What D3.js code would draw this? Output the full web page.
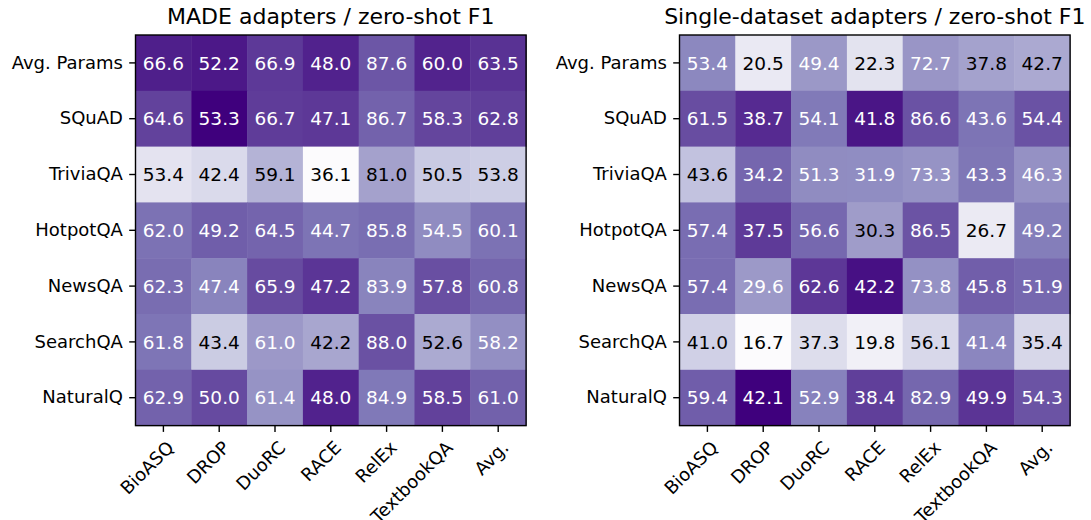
<!DOCTYPE html>
<html>
<head>
<meta charset="utf-8">
<script src="https://cdn.jsdelivr.net/npm/d3@7"></script>
<style>
  body { margin: 0; background: #fff; }
  svg { display: block; font-family: "DejaVu Sans", sans-serif; }
  .tick text { font-family: "DejaVu Sans", sans-serif; font-size: 18px; fill: #000; }
  .tick line { stroke: #000; stroke-width: 1.4; }
  .domain { display: none; }
</style>
</head>
<body>
<svg id="chart" width="1091" height="520"></svg>
<script>
// columns = target datasets, rows = adapter source
var datasets = ["BioASQ", "DROP", "DuoRC", "RACE", "RelEx", "TextbookQA", "Avg."];
var sources = ["Avg. Params", "SQuAD", "TriviaQA", "HotpotQA", "NewsQA", "SearchQA", "NaturalQ"];

var madeF1 = [
  [66.6, 52.2, 66.9, 48.0, 87.6, 60.0, 63.5],
  [64.6, 53.3, 66.7, 47.1, 86.7, 58.3, 62.8],
  [53.4, 42.4, 59.1, 36.1, 81.0, 50.5, 53.8],
  [62.0, 49.2, 64.5, 44.7, 85.8, 54.5, 60.1],
  [62.3, 47.4, 65.9, 47.2, 83.9, 57.8, 60.8],
  [61.8, 43.4, 61.0, 42.2, 88.0, 52.6, 58.2],
  [62.9, 50.0, 61.4, 48.0, 84.9, 58.5, 61.0]
];

var singleF1 = [
  [53.4, 20.5, 49.4, 22.3, 72.7, 37.8, 42.7],
  [61.5, 38.7, 54.1, 41.8, 86.6, 43.6, 54.4],
  [43.6, 34.2, 51.3, 31.9, 73.3, 43.3, 46.3],
  [57.4, 37.5, 56.6, 30.3, 86.5, 26.7, 49.2],
  [57.4, 29.6, 62.6, 42.2, 73.8, 45.8, 51.9],
  [41.0, 16.7, 37.3, 19.8, 56.1, 41.4, 35.4],
  [59.4, 42.1, 52.9, 38.4, 82.9, 49.9, 54.3]
];

var titles = ["MADE adapters / zero-shot F1", "Single-dataset adapters / zero-shot F1"];

var svg = d3.select("#chart");
var SIZE = 390.6, TOP = 35, TICK = 6.3;

function drawHeatmap(x0, data, title) {
  var g = svg.append("g").attr("transform", "translate(" + x0 + "," + TOP + ")");

  var x = d3.scaleBand().domain(datasets).range([0, SIZE]);
  var y = d3.scaleBand().domain(sources).range([0, SIZE]);

  // colour = score relative to the column mean (shade per column)
  var means = datasets.map(function(d, j) { return d3.mean(data, function(r) { return r[j]; }); });
  var cells = [];
  data.forEach(function(row, i) {
    row.forEach(function(v, j) {
      cells.push({ row: sources[i], col: datasets[j], value: v, rel: v / means[j] });
    });
  });
  var color = d3.scaleSequential(d3.interpolatePurples).domain(d3.extent(cells, function(d) { return d.rel; }));
  var norm = d3.scaleLinear().domain(color.domain()).range([0, 1]);

  g.selectAll("rect.cell")
    .data(cells)
    .enter().append("rect")
    .attr("class", "cell")
    .attr("x", function(d) { return x(d.col); })
    .attr("y", function(d) { return y(d.row); })
    .attr("width", x.bandwidth() + 0.5)
    .attr("height", y.bandwidth() + 0.5)
    .attr("fill", function(d) { return color(d.rel); });

  g.selectAll("text.val")
    .data(cells)
    .enter().append("text")
    .attr("class", "val")
    .attr("x", function(d) { return x(d.col) + x.bandwidth() / 2; })
    .attr("y", function(d) { return y(d.row) + y.bandwidth() / 2; })
    .attr("dy", "0.36em")
    .attr("text-anchor", "middle")
    .style("font-size", "18.5px")
    .attr("fill", function(d) { return norm(d.rel) >= 0.5 ? "#fff" : "#000"; })
    .text(function(d) { return d.value.toFixed(1); });

  g.append("rect")
    .attr("width", SIZE).attr("height", SIZE)
    .attr("fill", "none").attr("stroke", "#000").attr("stroke-width", 1.4);

  g.append("g")
    .call(d3.axisLeft(y).tickSize(TICK).tickPadding(TICK));

  var xa = g.append("g")
    .attr("transform", "translate(0," + SIZE + ")")
    .call(d3.axisBottom(x).tickSize(TICK).tickPadding(TICK));
  xa.selectAll("text")
    .attr("text-anchor", "end")
    .attr("dy", "0.75em")
    .attr("transform", "translate(2,1) rotate(-45 0 " + (TICK * 2) + ")");

  g.append("text")
    .attr("x", SIZE / 2)
    .attr("y", -11)
    .attr("text-anchor", "middle")
    .style("font-size", "22px")
    .text(title);
}

drawHeatmap(135.5, madeF1, titles[0]);
drawHeatmap(679.5, singleF1, titles[1]);
</script>
</body>
</html>
